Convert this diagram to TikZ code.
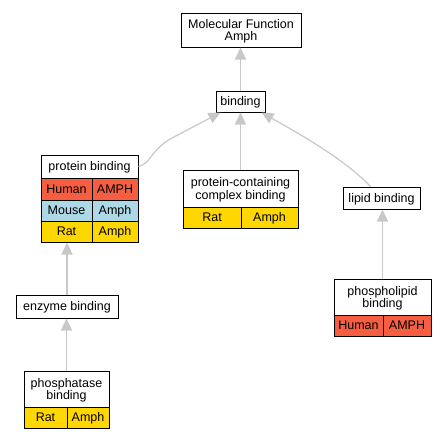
\documentclass[tikz,border=0pt]{standalone}
\usepackage{fontspec}
\setmainfont{Liberation Sans}
\usetikzlibrary{arrows.meta}
\definecolor{human}{RGB}{246,94,66}
\definecolor{mouse}{RGB}{173,216,230}
\definecolor{rat}{RGB}{255,215,0}
\definecolor{edgegray}{RGB}{200,200,200}
\newcommand{\topstrut}{\rule{0pt}{11.6pt}}
\tikzset{
  box/.style={draw=black, line width=1pt, inner sep=0pt, align=center,
    font=\fontsize{12.5}{12.6}\selectfont},
  oneline/.style={text height=10.8pt, text depth=2.2pt},
  edge/.style={draw=edgegray, line width=1.2pt,
    -{Triangle[length=12pt,width=11pt,fill=edgegray]}}
}
% \cellbox{name}{x1}{y1}{x2}{y2}{fill and options}{text}
\newcommand{\cellbox}[7]{%
  \node[box, fill=#6, minimum width={(#4-#2)*1pt}, minimum height={(#5-#3)*1pt}]
    (#1) at ({(#2+#4)/2},{(#3+#5)/2}) {#7};}
\begin{document}
\begin{tikzpicture}[x=1pt,y=-1pt]
\useasboundingbox[fill=white] (0,0) rectangle (445,440);
% nodes
\cellbox{mf}{181}{13}{301}{47}{white}{\topstrut Molecular Function\\Amph}
\cellbox{binding}{216}{91}{265}{112}{white,oneline}{binding}
% protein binding
\cellbox{pbt}{41}{155}{138}{178}{white,oneline}{protein binding}
\cellbox{pbHs}{41}{178}{92}{200}{human,oneline}{Human}
\cellbox{pbHg}{92}{178}{138}{200}{human,oneline}{AMPH}
\cellbox{pbMs}{41}{200}{92}{221}{mouse,oneline}{Mouse}
\cellbox{pbMg}{92}{200}{138}{221}{mouse,oneline}{Amph}
\cellbox{pbRs}{41}{221}{92}{242}{rat,oneline}{Rat}
\cellbox{pbRg}{92}{221}{138}{242}{rat,oneline}{Amph}
% protein-containing complex binding
\cellbox{pcct}{183}{170}{298}{207}{white}{\topstrut protein-containing\\complex binding}
\cellbox{pccRs}{183}{207}{241}{228}{rat,oneline}{Rat}
\cellbox{pccRg}{241}{207}{298}{228}{rat,oneline}{Amph}
% lipid binding
\cellbox{lipid}{343}{187}{420}{209}{white,oneline}{lipid binding}
% phospholipid binding
\cellbox{plt}{334}{279}{431}{315}{white}{\topstrut phospholipid\\binding}
\cellbox{plHs}{334}{315}{383}{336}{human,oneline}{Human}
\cellbox{plHg}{383}{315}{431}{336}{human,oneline}{AMPH}
% enzyme binding
\cellbox{enz}{16}{295}{118}{318}{white,oneline}{enzyme binding}
% phosphatase binding
\cellbox{pht}{24}{371}{109}{407}{white}{\topstrut phosphatase\\binding}
\cellbox{phRs}{24}{407}{67}{428}{rat,oneline}{Rat}
\cellbox{phRg}{67}{407}{109}{428}{rat,oneline}{Amph}
% edges
\draw[edge] (binding.north) -- (binding.north |- mf.south);
\draw[edge] (pcct.north) -- (pcct.north |- binding.south);
\draw[edge] (pbt.east) .. controls (152,163) and (150,150) .. (172,138) -- ([xshift=5pt]binding.south west);
\draw[edge] ([xshift=-11pt]lipid.north) .. controls (345,160) and (305,137) .. ([xshift=-4pt]binding.south east);
\draw[edge] (enz.north) -- (enz.north |- pbRs.south);
\draw[edge] (pht.north) -- (pht.north |- enz.south);
\draw[edge] (plt.north) -- (plt.north |- lipid.south);
\end{tikzpicture}
\end{document}
